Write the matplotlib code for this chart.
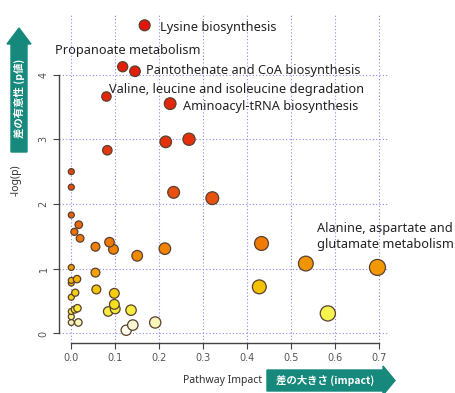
import numpy as np
import matplotlib.pyplot as plt
from matplotlib.colors import LinearSegmentedColormap
from matplotlib.patches import Polygon

# pathway impact (x) and -log(p) (y) for each pathway
impact = [0.167, 0.117, 0.145, 0.080, 0.225,
          0.215, 0.268, 0.082, 0.000, 0.000,
          0.233, 0.321, 0.000, 0.017, 0.007,
          0.020, 0.055, 0.087, 0.096, 0.150,
          0.213, 0.433, 0.534, 0.697, 0.000,
          0.055, 0.013, 0.000, 0.000, 0.428,
          0.057, 0.098, 0.009, 0.000, 0.098,
          0.100, 0.084, 0.136, 0.014, 0.008,
          0.000, 0.000, 0.000, 0.016, 0.140,
          0.125, 0.191, 0.584]
neglogp = [4.76, 4.12, 4.05, 3.66, 3.55,
           2.96, 3.00, 2.83, 2.50, 2.26,
           2.18, 2.09, 1.83, 1.68, 1.57,
           1.47, 1.34, 1.41, 1.30, 1.20,
           1.31, 1.39, 1.08, 1.02, 1.02,
           0.94, 0.84, 0.82, 0.78, 0.72,
           0.68, 0.62, 0.63, 0.56, 0.45,
           0.38, 0.34, 0.36, 0.39, 0.37,
           0.34, 0.26, 0.17, 0.17, 0.13,
           0.05, 0.17, 0.31]
labels = ["Lysine biosynthesis", "Propanoate metabolism",
          "Pantothenate and CoA biosynthesis",
          "Valine, leucine and isoleucine degradation",
          "Aminoacyl-tRNA biosynthesis"] + [""] * 18 + \
         ["Alanine, aspartate and\nglutamate metabolism"] + [""] * 24

x_ticks = [0.0, 0.1, 0.2, 0.3, 0.4, 0.5, 0.6, 0.7]
y_ticks = [0, 1, 2, 3, 4]

# label placement: (dx, dy) in pixels, horizontal alignment
label_pos = {
    "Lysine biosynthesis": (15, -2, "left"),
    "Propanoate metabolism": (5, 16, "center"),
    "Pantothenate and CoA biosynthesis": (11, 1, "left"),
    "Valine, leucine and isoleucine degradation": (3, 7, "left"),
    "Aminoacyl-tRNA biosynthesis": (13, -3, "left"),
    "Alanine, aspartate and\nglutamate metabolism": (-60, 31, "left"),
}

heat = LinearSegmentedColormap.from_list("heat", [
    (0.0, "#fffff8"), (0.15 / 4.8, "#f8f6c8"), (0.3 / 4.8, "#f6f250"),
    (0.45 / 4.8, "#f5e020"), (0.7 / 4.8, "#f5c400"), (1.0 / 4.8, "#f29a00"),
    (1.4 / 4.8, "#ef7a05"), (2.0 / 4.8, "#e85510"), (3.0 / 4.8, "#e4300c"),
    (1.0, "#e2140a")])

W, H = 455, 393
fig = plt.figure(figsize=(W / 100, H / 100), dpi=100)
ax = fig.add_axes([59 / W, 50 / H, 329 / W, 330 / H])

x = np.array(impact)
y = np.array(neglogp)
r_px = 3 + 6 * np.sqrt(x)
sizes = (2 * r_px * 0.72) ** 2
order = np.argsort(-y)[::-1]
ax.scatter(x[order], y[order], s=sizes[order], c=heat(y[order] / 4.8),
           edgecolors="#5a4030", linewidths=0.9, zorder=3)

for xi, yi, lab in zip(x, y, labels):
    if lab:
        dx, dy, ha = label_pos[lab]
        ax.annotate(lab, (xi, yi), xytext=(dx, dy), textcoords="offset pixels",
                    ha=ha, va="center", fontsize=9.2, family="Noto Sans",
                    color="#222222", linespacing=1.3, zorder=4)

ax.set_xlim(-0.028, 0.721)
ax.set_ylim(-0.147, 4.95)
ax.set_xticks(x_ticks)
ax.set_yticks(y_ticks)
ax.set_xticklabels([f"{t:.1f}" for t in x_ticks])
ax.grid(True, color="#8a8af0", linestyle=(0, (1, 2)), linewidth=0.8)
ax.set_axisbelow(True)
for s in ["top", "right"]:
    ax.spines[s].set_visible(False)
ax.spines["left"].set_bounds(0, 4)
ax.spines["bottom"].set_bounds(0, 0.7)
for s in ["left", "bottom"]:
    ax.spines[s].set_color("#444444")
    ax.spines[s].set_linewidth(1.0)
ax.tick_params(colors="#444444", labelcolor="#555555", labelsize=7, length=4)
for t in ax.get_yticklabels():
    t.set_rotation(90)
    t.set_va("center")

# overlay in pixel coordinates for axis titles and arrows
ov = fig.add_axes([0, 0, 1, 1])
ov.set_xlim(0, W)
ov.set_ylim(H, 0)
ov.axis("off")
teal = "#16887c"
ov.add_patch(Polygon([(11, 152), (27, 152), (27, 44), (31, 44), (19, 28),
                      (7, 44), (11, 44)], closed=True, color=teal))
ov.text(19, 98, "差の有意性 (p値)", rotation=90, ha="center", va="center",
        color="white", fontsize=7.5, fontweight="bold",
        family=["Noto Sans CJK JP", "DejaVu Sans"])
ov.add_patch(Polygon([(267, 370), (383, 370), (383, 366), (395, 380.5),
                      (383, 395), (383, 391), (267, 391)], closed=True,
                     color=teal))
ov.text(325, 380.5, "差の大きさ (impact)", ha="center", va="center",
        color="white", fontsize=7.5, fontweight="bold",
        family=["Noto Sans CJK JP", "DejaVu Sans"])
ov.text(223, 381, "Pathway Impact", ha="center", va="center",
        color="#333333", fontsize=7.5, family="Noto Sans")
ov.text(16, 180, "-log(p)", rotation=90, ha="center", va="center",
        color="#333333", fontsize=7.5, family="Noto Sans")

fig.savefig("out.png", dpi=100)
